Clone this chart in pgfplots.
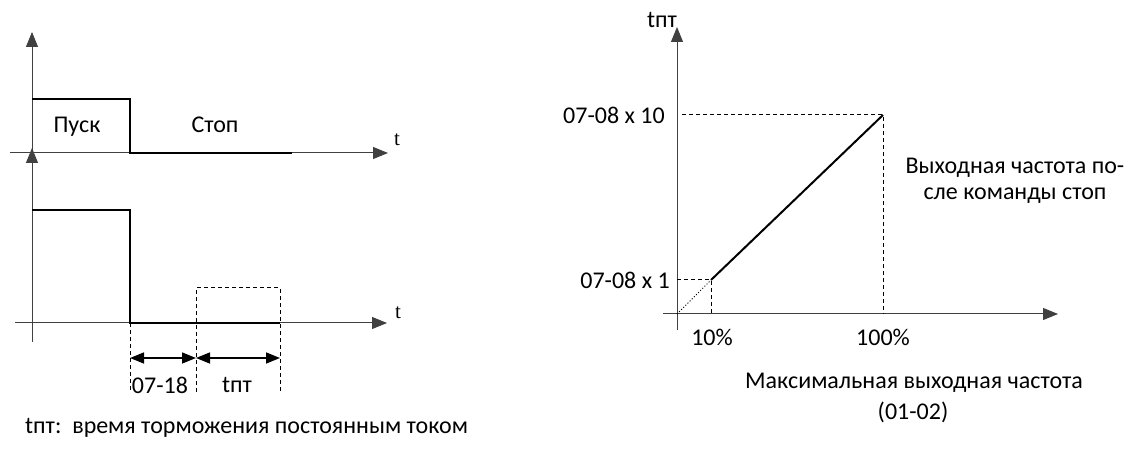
\documentclass[border=0pt]{standalone}
\usepackage{pgfplots}
\pgfplotsset{compat=1.18}
\usetikzlibrary{arrows.meta}
\usepackage{fontspec}
\setmainfont{Carlito}
\newfontfamily\serif{Liberation Serif}

\begin{document}
\begin{tikzpicture}[
  every node/.append style={font=\fontsize{24bp}{28bp}\selectfont, inner sep=0pt},
  ax/.style={draw=black!75, line width=1bp},
  sig/.style={draw=black, line width=2.2bp},
  dsh/.style={draw=black, line width=1bp, dash pattern=on 4bp off 3bp},
  arr/.style={-{Triangle[length=15bp,width=12bp]}},
  dim/.style={{Triangle[length=14bp,width=11bp]}-{Triangle[length=14bp,width=11bp]}, draw=black, line width=1.5bp},
]
\begin{axis}[x=1bp, y=1bp, y dir=reverse,
  xmin=0, xmax=1132, ymin=0, ymax=450,
  hide axis, clip=false, scale only axis]
\path (axis cs:0,0) rectangle (axis cs:1132,450);

% left: run/stop command
\addplot[ax, arr] coordinates {(32,342) (32,32)};
\addplot[ax, arr] coordinates {(32,175) (32,148)};
\addplot[ax, arr] coordinates {(10,153) (388,153)};
\addplot[sig] coordinates {(32,99) (130,99) (130,153) (292,153)};

% left: output
\addplot[ax, arr] coordinates {(15,323) (387,323)};
\addplot[sig] coordinates {(32,210) (130,210) (130,323) (280,323)};
\addplot[dsh] coordinates {(196,392) (196,288) (280,288) (280,392)};
\addplot[dsh] coordinates {(130,323) (130,392)};
\addplot[dim] coordinates {(130,358) (196,358)};
\addplot[dim] coordinates {(196,358) (280,358)};

\node at (axis cs:397,140) {\serif\fontsize{21bp}{24bp}\selectfont t};
\node at (axis cs:398,313) {\serif\fontsize{21bp}{24bp}\selectfont t};
\node at (axis cs:77,127) {Пуск};
\node at (axis cs:215,125) {Стоп};
\node at (axis cs:160,385) {07-18};
\node at (axis cs:237,385) {tпт};
\node[anchor=west] at (axis cs:25,428) {tпт:\ \ время торможения постоянным током};

% right: braking time vs frequency
\addplot[ax, arr] coordinates {(677,330) (677,27)};
\addplot[ax, arr] coordinates {(663,314) (1058,314)};
\addplot[dsh] coordinates {(682,115) (883,115) (883,314)};
\addplot[dsh] coordinates {(677,280) (711,280) (711,314)};
\addplot[draw=black, line width=1bp, dotted] coordinates {(677,314) (711,280)};
\addplot[draw=black, line width=2bp] coordinates {(711,280) (883,115)};

\node at (axis cs:662,20) {tпт};
\node[anchor=east] at (axis cs:665,115) {07-08 x 10};
\node[anchor=east] at (axis cs:670,280) {07-08 x 1};
\node at (axis cs:712,337) {10\%};
\node at (axis cs:883,337) {100\%};
\node at (axis cs:914,383) {Максимальная выходная частота};
\node at (axis cs:913,412) {(01-02)};
\node at (axis cs:1015,168) {Выходная частота по-};
\node at (axis cs:1015,196) {сле команды стоп};
\end{axis}
\end{tikzpicture}
\end{document}
